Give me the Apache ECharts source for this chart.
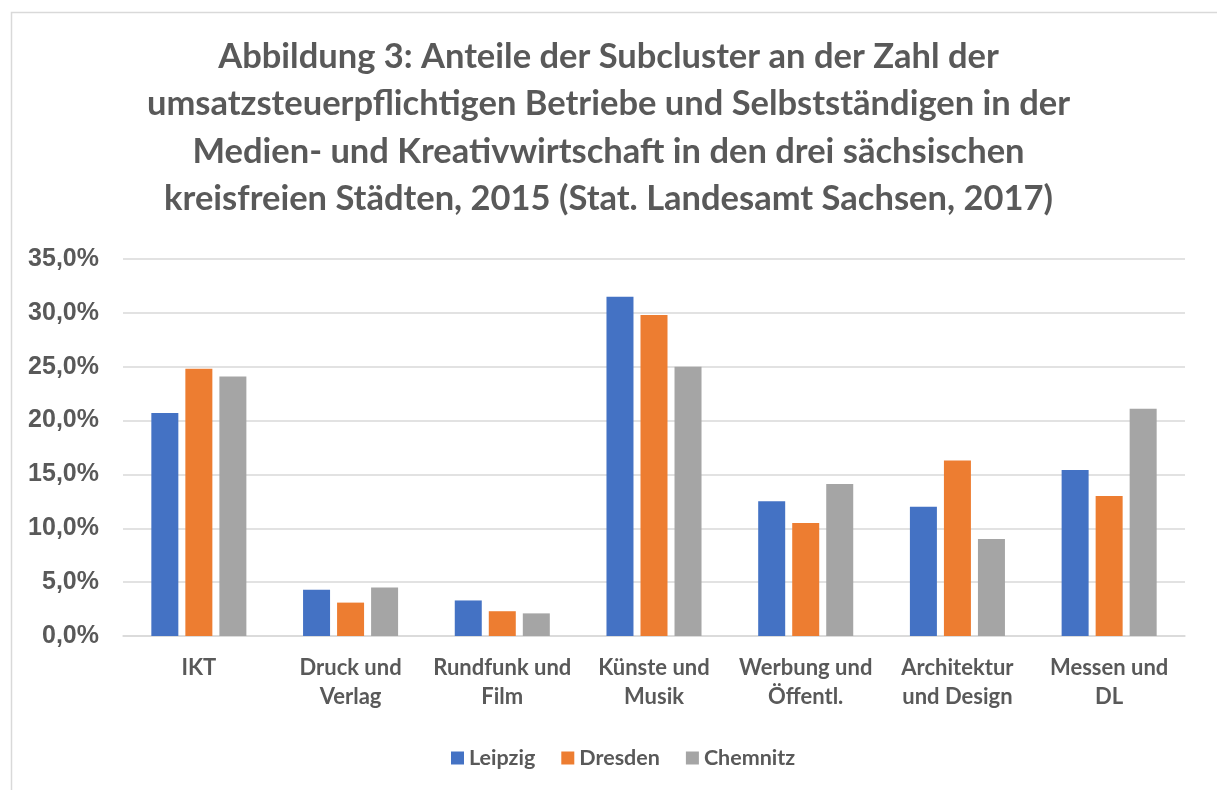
<!DOCTYPE html>
<html>
<head>
<meta charset="utf-8">
<script src="https://cdn.jsdelivr.net/npm/echarts@6/dist/echarts.min.js"></script>
<style>
html,body{margin:0;padding:0;background:#fff;}
#chart{width:1217px;height:790px;}
</style>
</head>
<body>
<div id="chart"></div>
<script>
const categories = ["IKT", "Druck und\nVerlag", "Rundfunk und\nFilm", "Künste und\nMusik", "Werbung und\nÖffentl.", "Architektur\nund Design", "Messen und\nDL"];
const seriesNames = ["Leipzig", "Dresden", "Chemnitz"];
const leipzig  = [20.7, 4.3, 3.3, 31.5, 12.5, 12.0, 15.4];
const dresden  = [24.8, 3.1, 2.3, 29.8, 10.5, 16.3, 13.0];
const chemnitz = [24.1, 4.5, 2.1, 25.0, 14.1, 9.0, 21.1];
const colors = ["#4472C4", "#ED7D31", "#A5A5A5"];
const titleText = "Abbildung 3: Anteile der Subcluster an der Zahl der\numsatzsteuerpflichtigen Betriebe und Selbstständigen in der\nMedien- und Kreativwirtschaft in den drei sächsischen\nkreisfreien Städten, 2015 (Stat. Landesamt Sachsen, 2017)";

const textColor = "#595959";
const chart = echarts.init(document.getElementById('chart'), null, {renderer: 'canvas'});
const values = [leipzig, dresden, chemnitz];
chart.setOption({
  animation: false,
  backgroundColor: '#fff',
  title: {
    text: titleText,
    left: 'center',
    top: 28,
    textStyle: {fontFamily: 'Lato', fontWeight: 'bold', fontSize: 34.5, lineHeight: 47.5, color: textColor}
  },
  graphic: [{
    type: 'polyline',
    shape: {points: [[11.5, 790], [11.5, 12.5], [1217, 12.5]]},
    style: {stroke: '#d9d9d9', lineWidth: 1.5, fill: null},
    silent: true
  }],
  legend: {
    data: seriesNames,
    top: 742,
    left: 446,
    icon: 'rect',
    itemWidth: 13,
    itemHeight: 13,
    itemGap: 26,
    textStyle: {fontFamily: 'Lato', fontWeight: 'bold', fontSize: 21.5, color: textColor}
  },
  grid: {left: 123, right: 32, top: 259, bottom: 154, containLabel: false},
  xAxis: {
    type: 'category',
    data: categories,
    axisLine: {lineStyle: {color: '#d9d9d9', width: 1.5}},
    axisTick: {show: false},
    axisLabel: {interval: 0, margin: 17, fontFamily: 'Lato', fontWeight: 'bold', fontSize: 22, lineHeight: 29, color: textColor, align: 'center'}
  },
  yAxis: {
    type: 'value',
    min: 0, max: 35, interval: 5,
    axisLine: {show: false},
    axisTick: {show: false},
    splitLine: {lineStyle: {color: '#d9d9d9', width: 1.5}},
    axisLabel: {
      margin: 24,
      fontFamily: 'Liberation Sans', fontWeight: 'bold', fontSize: 25, color: textColor,
      formatter: v => v.toFixed(1).replace('.', ',') + '%'
    }
  },
  series: seriesNames.map((name, i) => ({
    name: name,
    type: 'bar',
    data: values[i],
    barWidth: 27,
    barGap: '26%',
    itemStyle: {color: colors[i]}
  }))
});
</script>
</body>
</html>
